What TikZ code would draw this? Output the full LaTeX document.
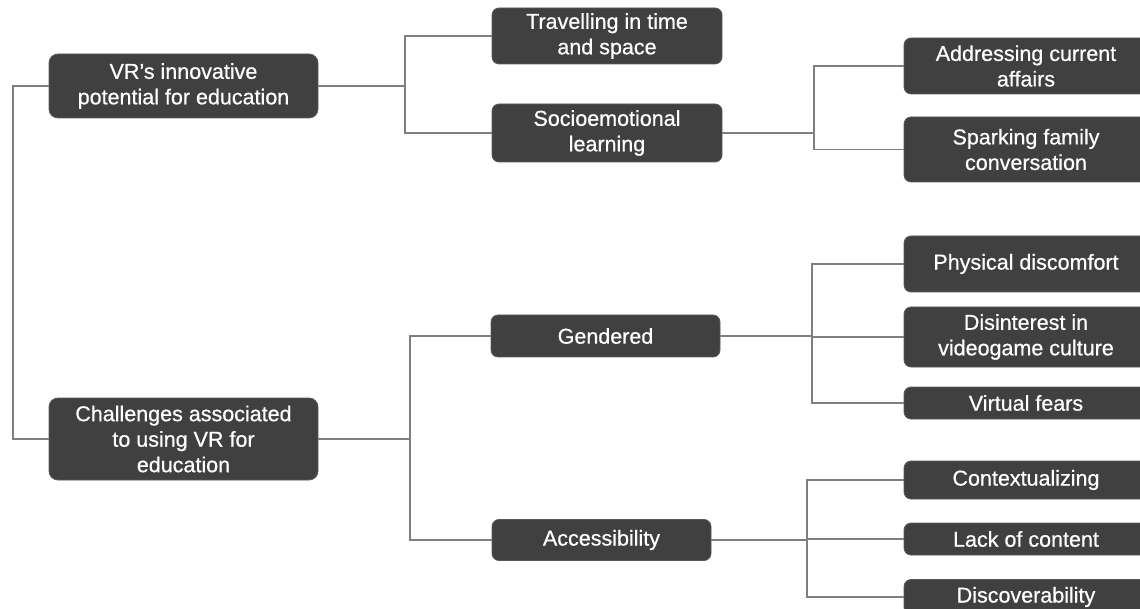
\documentclass[tikz,border=0pt]{standalone}
\usepackage{fontspec}
\setmainfont{Liberation Sans}
\newfontfamily\medfont[FakeBold=0.6]{Liberation Sans}
\definecolor{boxfill}{HTML}{404040}
\definecolor{boxedge}{HTML}{5A5A5A}
\definecolor{linec}{HTML}{7F7F7F}
\tikzset{
  box/.style={draw=boxedge, line width=0.8pt, fill=boxfill, text=white, rounded corners=7pt,
    align=center, inner sep=0pt, font=\medfont\fontsize{21.5}{25.5}\selectfont},
  conn/.style={draw=linec, line width=1.4pt}
}
\begin{document}
\begin{tikzpicture}[x=1pt,y=-1pt]
\useasboundingbox (0,0) rectangle (1140,609);
\clip (0,0) rectangle (1140,609);
% level 1
\node[box, minimum width=269pt, minimum height=64pt, rounded corners=9pt] (vr) at (183.5,86) {VR’s innovative\\potential for education};
\node[box, minimum width=269pt, minimum height=82pt, rounded corners=9pt] (ch) at (183.5,439) {Challenges associated\\to using VR for\\education};
% level 2
\node[box, minimum width=230pt, minimum height=56pt] (trav) at (607,36) {Travelling in time\\and space};
\node[box, minimum width=230pt, minimum height=58pt] (socio) at (607,133) {Socioemotional\\learning};
\node[box, minimum width=229pt, minimum height=42pt] (gend) at (605.5,336) {Gendered};
\node[box, minimum width=219pt, minimum height=41pt] (acc) at (601.5,540) {Accessibility};
% level 3
\node[box, minimum width=244pt, minimum height=56pt] (addr) at (1026,66) {Addressing current\\affairs};
\node[box, minimum width=244pt, minimum height=65pt] (spark) at (1026,149.5) {Sparking family\\conversation};
\node[box, minimum width=244pt, minimum height=56pt] (phys) at (1026,264) {Physical discomfort};
\node[box, minimum width=244pt, minimum height=60pt] (dis) at (1026,337) {Disinterest in\\videogame culture};
\node[box, minimum width=244pt, minimum height=32pt] (vf) at (1026,403) {Virtual fears};
\node[box, minimum width=244pt, minimum height=38pt] (ctx) at (1026,480) {Contextualizing};
\node[box, minimum width=244pt, minimum height=32pt] (lack) at (1026,539) {Lack of content};
\node[box, minimum width=244pt, minimum height=35pt] (disc) at (1026,597) {Discoverability};
% junctions
\coordinate (j0) at (13,86);
\coordinate (j1) at (405,86);
\coordinate (j2) at (410,439);
\coordinate (j3) at (814,133);
\coordinate (j4) at (812,336);
\coordinate (j5) at (807,540);
% connectors
\draw[conn] (vr.west) -- (j0) |- (ch.west);
\draw[conn] (vr.east) -- (j1);
\draw[conn] (j1) |- (trav.west);
\draw[conn] (j1) |- (socio.west);
\draw[conn] (ch.east) -- (j2);
\draw[conn] (j2) |- (gend.west);
\draw[conn] (j2) |- (acc.west);
\draw[conn] (socio.east) -- (j3);
\draw[conn] (j3) |- (addr.west);
\draw[conn] (j3) |- (spark.west);
\draw[conn] (gend.east) -- (j4);
\draw[conn] (j4) |- (phys.west);
\draw[conn] (j4) |- (dis.west);
\draw[conn] (j4) |- (vf.west);
\draw[conn] (acc.east) -- (j5);
\draw[conn] (j5) |- (ctx.west);
\draw[conn] (j5) |- (lack.west);
\draw[conn] (j5) |- (disc.west);
\end{tikzpicture}
\end{document}
